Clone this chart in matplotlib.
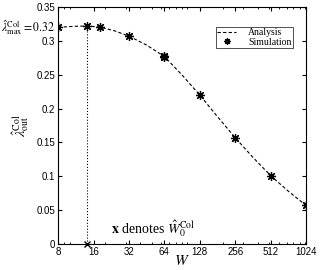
import numpy as np
import matplotlib
matplotlib.use("Agg")
import matplotlib.pyplot as plt
from matplotlib.ticker import FixedLocator, NullFormatter

# analysis curve
w_ana = [8, 11, 14, 18, 24, 32, 45, 64, 90, 128, 181, 256, 362, 512, 724, 1024]
lam_ana = [0.320, 0.3215, 0.322, 0.3205, 0.315, 0.307, 0.294, 0.277, 0.250,
           0.220, 0.188, 0.157, 0.128, 0.101, 0.078, 0.057]

# simulation points
w_sim = [8, 14, 18, 32, 64, 64, 128, 256, 512, 1024]
lam_sim = [0.320, 0.322, 0.321, 0.307, 0.278, 0.276, 0.220, 0.157, 0.101, 0.057]

w0 = 14
lam_max = 0.322

xticks = [8, 16, 32, 64, 128, 256, 512, 1024]
yticks = [0, 0.05, 0.1, 0.15, 0.2, 0.25, 0.3, 0.35]
ytick_labels = ["0", "0.05", "0.1", "0.15", "0.2", "0.25", "0.3", "0.35"]

plt.rcParams['font.family'] = ['Liberation Sans', 'DejaVu Sans']
plt.rcParams['mathtext.fontset'] = 'stix'

fig = plt.figure(figsize=(3.32, 2.70), dpi=100)
ax = fig.add_axes([0.175, 0.096, 0.747, 0.878])

ax.plot(w_ana, lam_ana, 'k--', lw=0.8, dashes=(3, 2), label='Analysis')
ax.plot(w_sim, lam_sim, 'k', ls='none', marker=(8, 2, 0), ms=6.5, mew=0.9,
        label='Simulation')
ax.plot([w0, w0], [0, lam_max], 'k:', lw=0.8)
ax.plot([w0], [0], 'kx', ms=4, mew=1.0, clip_on=False)

ax.set_xscale('log', base=2)
ax.set_xlim(8, 1024)
ax.set_ylim(0, 0.35)
ax.xaxis.set_major_locator(FixedLocator(xticks))
ax.set_xticklabels([str(v) for v in xticks], family='Liberation Sans')
minors = [9, 10, 20, 30, 40, 50, 60, 70, 80, 90, 100, 200, 300, 400, 500,
          600, 700, 800, 900, 1000]
ax.xaxis.set_minor_locator(FixedLocator(minors))
ax.xaxis.set_minor_formatter(NullFormatter())
ax.set_yticks(yticks)
ax.set_yticklabels(ytick_labels, family='Liberation Sans')
ax.tick_params(which='both', direction='in', top=True, right=True,
               labelsize=7, pad=2)
ax.tick_params(which='major', length=3)
ax.tick_params(which='minor', length=1.5)

ax.set_xlabel(r'$W$', fontsize=11, labelpad=-2)
ax.set_ylabel(r'$\hat{\lambda}^{\rm Col}_{\rm out}$', fontsize=10, labelpad=4)

ax.text(-0.012, 0.32, r'$\hat{\lambda}^{\rm Col}_{\rm max} = 0.32$',
        transform=ax.get_yaxis_transform(), ha='right', va='center',
        fontsize=8.5)
ax.text(51, 0.007, r'$\mathbf{x}$ denotes $\hat{W}_0^{\rm Col}$',
        ha='center', va='bottom', fontsize=10, family='Liberation Serif')

leg = ax.legend(loc='upper right', bbox_to_anchor=(0.955, 0.925),
                fancybox=False, edgecolor='k', frameon=True,
                borderpad=0.15, handlelength=2.0, labelspacing=0.05,
                handletextpad=1.2, borderaxespad=0.2, markerscale=0.7,
                prop={'family': 'Liberation Serif', 'size': 7})
leg.get_frame().set_linewidth(0.6)

fig.savefig('out.png', dpi=100)
